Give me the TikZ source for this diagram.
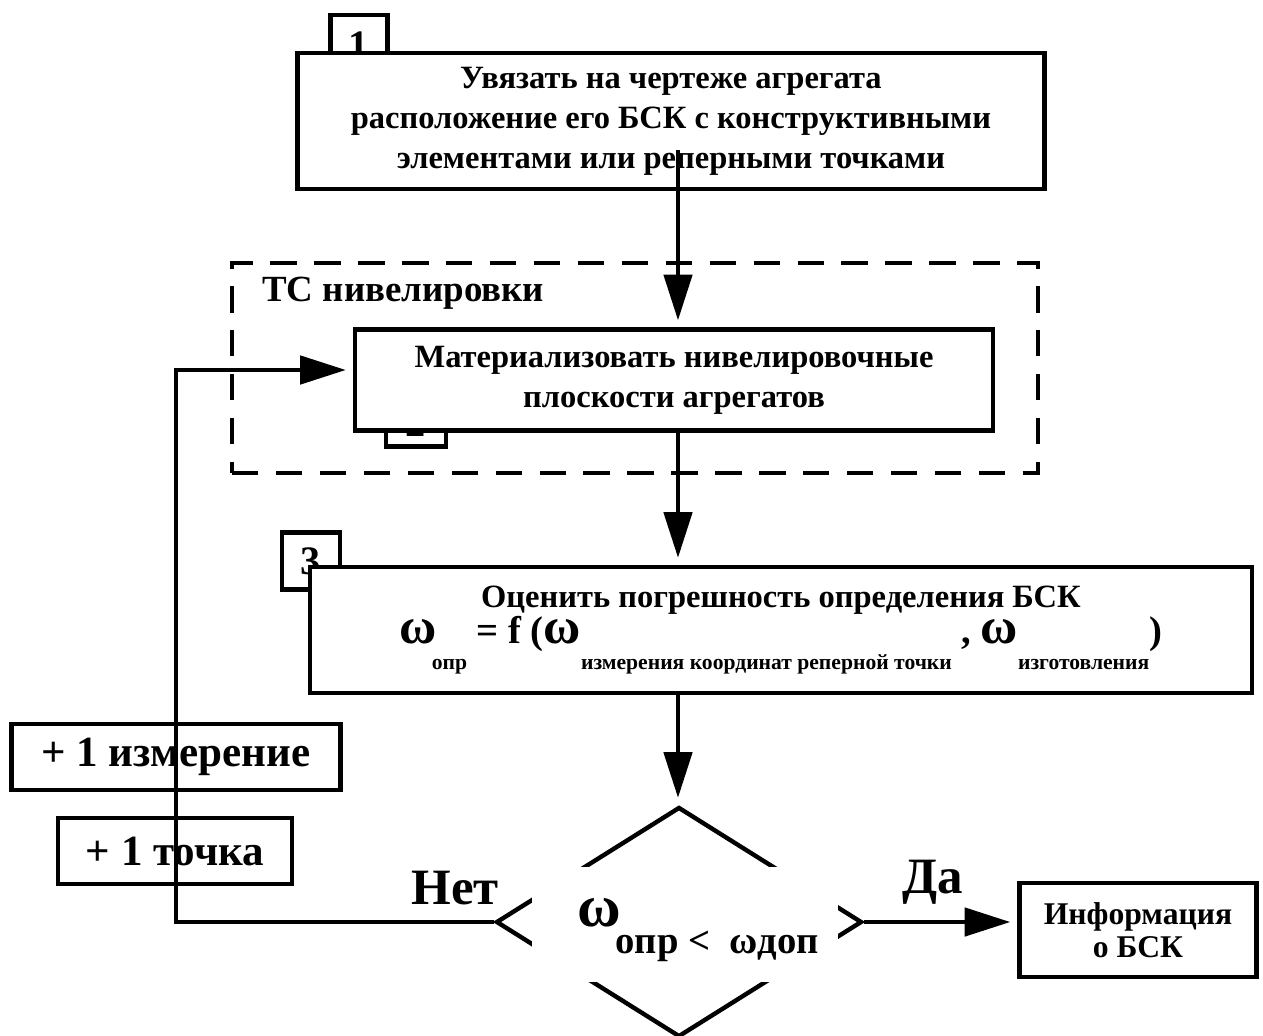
\documentclass[tikz,border=0pt]{standalone}
\usepackage{fontspec}
\setmainfont{Liberation Serif}
\usetikzlibrary{arrows.meta,shapes.geometric}
\newcommand\lowsub[1]{\raisebox{-15pt}{\fontsize{12.3}{12.3}\selectfont #1}}
\newcommand\omg{{\fontsize{29}{29}\selectfont ω}}

\begin{document}
\begin{tikzpicture}[x=0.02cm,y=-0.02cm,
  blk/.style={draw, fill=white, line width=2.5pt, align=center, inner sep=0pt, font=\bfseries\fontsize{18.5}{22.8}\selectfont},
  tag/.style={draw, line width=2.5pt, inner sep=0pt, font=\bfseries\fontsize{23}{23}\selectfont},
  lbl/.style={inner sep=0pt, font=\bfseries\fontsize{29}{29}\selectfont},
  frame/.style={draw, line width=2.5pt, dash pattern=on 15pt off 10pt, inner sep=0pt},
  arr/.style={line width=2.5pt, -{Triangle[length=26pt,width=16pt]}, shorten >=4pt}]
\useasboundingbox (0,0) rectangle (1263,1035);

% number tags, partly under the blocks
\node[tag, minimum width=1.14cm, minimum height=1.2cm] (t1) at (359,45) {1};
\node[tag, minimum width=1.2cm, minimum height=0.94cm] (t2) at (416,423) {2};
\node[tag, minimum width=1.16cm, minimum height=1.14cm] (t3) at (311,561) {3};

\node[blk, minimum width=14.94cm, minimum height=2.72cm] (b1) at (671,121) {Увязать на чертеже агрегата\\расположение его БСК с конструктивными\\элементами или реперными точками};

\node[frame, minimum width=16.12cm, minimum height=4.2cm] (tsf) at (635,368) {};
\node[lbl, font=\bfseries\fontsize{21}{21}\selectfont, anchor=west] (tsl) at (262,293) {ТС нивелировки};
\node[blk, minimum width=12.76cm, minimum height=2.02cm] (b2) at (674,380) {Материализовать нивелировочные\\плоскости агрегатов};

\node[blk, minimum width=18.84cm, minimum height=2.52cm] (b3) at (781,630) {Оценить погрешность определения БСК\\[-2pt]{\fontsize{22}{28}\selectfont \omg\kern-3pt\lowsub{опр} = f (\omg\lowsub{измерения координат реперной точки} , \omg\lowsub{изготовления})}};

% decision
\node[draw, diamond, line width=2.5pt, minimum width=7.32cm, minimum height=4.6cm, inner sep=0pt] (dec) at (679,922) {};
\node[fill=white, minimum width=6.14cm, minimum height=2.3cm, inner sep=0pt] (condbg) at (685,924) {};
\node[inner sep=0pt, font=\bfseries] (cond) at (698,930) {{\fontsize{34}{34}\selectfont ω}\kern-3pt\raisebox{-15pt}{\fontsize{22}{22}\selectfont опр <\ \ ωдоп}};

\node[blk, font=\bfseries\fontsize{18}{19}\selectfont, minimum width=4.74cm, minimum height=1.88cm] (info) at (1138,930) {Информация\\о БСК};
\node[blk, font=\bfseries\fontsize{24.5}{24.5}\selectfont, minimum width=6.58cm, minimum height=1.32cm] (p1) at (176,757) {+ 1 измерение};
\node[blk, font=\bfseries\fontsize{24.5}{24.5}\selectfont, minimum width=4.68cm, minimum height=1.32cm] (p2) at (175,851) {+ 1 точка};

\node[lbl] (no) at (455,888) {Нет};
\node[lbl] (yes) at (933,882) {Да};

\coordinate (s1) at (678,150);
\coordinate (fb) at (176,370);
\draw[arr] (s1) -- (s1 |- b2.north);
\draw[arr] (s1 |- b2.south) -- (s1 |- b3.north);
\draw[arr] (s1 |- b3.south) -- (s1 |- dec.north);
\draw[arr] (dec.east) -- (dec.east -| info.west);
\draw[arr] (dec.west) -| (fb) -- (fb -| b2.west);
\end{tikzpicture}
\end{document}
